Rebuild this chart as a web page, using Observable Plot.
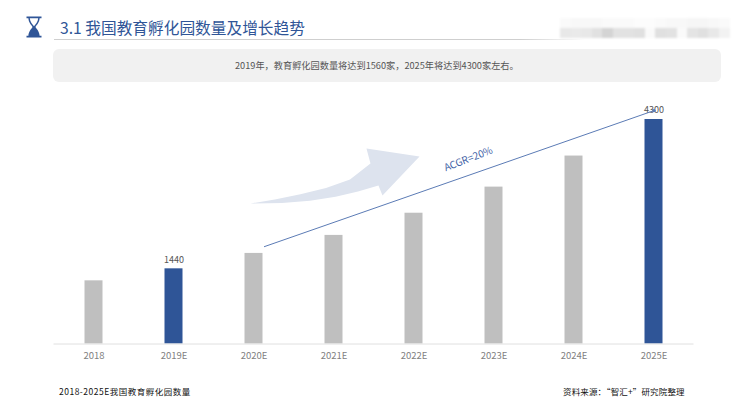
<!DOCTYPE html>
<html lang="zh">
<head>
<meta charset="utf-8">
<script src="https://cdn.jsdelivr.net/npm/d3@7"></script>
<script src="https://cdn.jsdelivr.net/npm/@observablehq/plot@0.6"></script>
<style>
html,body{margin:0;padding:0;background:#fff;width:745px;height:414px;overflow:hidden;font-family:"Noto Sans CJK SC","Noto Sans",sans-serif}
#chart{position:absolute;left:0;top:0}
.o{position:absolute;white-space:nowrap}
#title{left:60px;top:15px;font-size:15.7px;line-height:26px;color:#2f5597}
#rule{left:54px;top:39px;width:530px;height:1px;background:linear-gradient(90deg,#cfcfcf 0,#cfcfcf 88%,rgba(207,207,207,0) 100%)}
#box{left:53px;top:49px;width:668px;height:33px;border-radius:6px;background:#f1f1f1;color:#555;font-size:9.2px;line-height:33px;text-align:left;text-indent:182px}
#foot1{left:59px;top:384px;font-size:8.5px;line-height:14px;color:#111;letter-spacing:.5px}
#foot2{left:563px;top:384px;font-size:8.5px;line-height:14px;color:#111;letter-spacing:.15px}
#icon{left:26px;top:16px}
#mosaic{left:560px;top:18px;display:grid;grid-template-columns:repeat(16,10.6px);grid-auto-rows:10px;filter:blur(.8px)}
</style>
</head>
<body>
<div id="chart"></div>
<div class="o" id="title">3.1 我国教育孵化园数量及增长趋势</div>
<div class="o" id="rule"></div>
<div class="o" id="box">2019年&#xFF0C;教育孵化园数量将达到1560家&#xFF0C;2025年将达到4300家左右。</div>
<div class="o" id="foot1">2018-2025E我国教育孵化园数量</div>
<div class="o" id="foot2">资料来源&#xFF1A;“智汇+”研究院整理</div>
<svg class="o" id="icon" width="16" height="22" viewBox="0 0 16 22">
  <path d="M0.5 0.5H15.5V2.2H13.6C13.4 6.5 10.8 8.8 9.4 11C10.8 13.2 13.4 15.5 13.6 19.8H15.5V21.5H0.5V19.8H2.4C2.6 15.5 5.2 13.2 6.6 11C5.2 8.8 2.6 6.5 2.4 2.2H0.5Z M3.8 2.2C4 6 6.6 8.4 8 10.2C9.4 8.4 12 6 12.2 2.2Z" fill="#2f5597" fill-rule="evenodd"/>
</svg>
<div class="o" id="mosaic"></div>
<script>
// Chart data
const years = ["2018", "2019E", "2020E", "2021E", "2022E", "2023E", "2024E", "2025E"];
const counts = [1210, 1440, 1735, 2080, 2505, 3005, 3600, 4300];
const highlighted = ["2019E", "2025E"];
const valueLabels = {"2019E": "1440", "2025E": "4300"};

// Trend line, in chart units (category index, count)
const trendX = [2.13, 7.0];
const trendY = [1865, 4470];
const trendLabel = "ACGR=20%";

// Decorative arrow outline, in chart units
const arrowX = [1.956, 2.26, 2.58, 2.9, 3.2, 3.456, 3.406, 4.069, 3.606, 3.556, 3.3, 3.02, 2.7, 2.35, 1.956];
const arrowY = [2691, 2770, 2870, 2990, 3150, 3457, 3745, 3591, 2844, 3036, 2920, 2820, 2745, 2700, 2691];

// Blurred patch at the top right (grey levels)
const mosaicTop = [250,248,248,248,250,250,250,252,252,250,248,248,246,246,248,250];
const mosaicBottom = [232,234,232,225,212,226,226,224,250,224,226,250,228,224,232,242];

const bars = years.map((year, i) => ({year, i, count: counts[i], hi: highlighted.includes(year)}));
const trend = trendX.map((x, k) => ({x, y: trendY[k]}));
const arrow = arrowX.map((x, k) => ({x, y: arrowY[k]}));
const halfBar = 0.1125;

const chart = Plot.plot({
  width: 745, height: 414,
  marginLeft: 53.5, marginRight: 51.5, marginTop: 119, marginBottom: 70.5,
  style: {fontFamily: '"Noto Sans CJK SC","Noto Sans",sans-serif', background: "transparent"},
  x: {domain: [-0.5, 7.5], axis: null},
  y: {domain: [0, 4300], axis: null},
  marks: [
    Plot.line(arrow, {x: "x", y: "y", fill: "#dde3ee", stroke: "none", curve: "linear"}),
    Plot.rectY(bars, {x1: d => d.i - halfBar, x2: d => d.i + halfBar, y1: 0, y2: "count",
      fill: d => d.hi ? "#2f5597" : "#bfbfbf"}),
    Plot.ruleY([0], {stroke: "#e0e0e0", strokeWidth: 1}),
    Plot.text(bars, {x: "i", y: 0, text: "year", dy: 12, fill: "#7f7f7f", fontSize: 9.5, lineAnchor: "middle"}),
    Plot.text(bars.filter(d => valueLabels[d.year]), {x: "i", y: "count", text: d => valueLabels[d.year],
      dy: -9, fill: "#555", fontSize: 9, lineAnchor: "middle"}),
    Plot.line(trend, {x: "x", y: "y", stroke: "#5b7bb5", strokeWidth: 1, markerEnd: "dot"}),
    Plot.text([{x: 4.68, y: 3540}], {x: "x", y: "y", text: () => trendLabel, rotate: -21,
      fill: "#3f62a6", fontSize: 10})
  ]
});
document.getElementById("chart").append(chart);

const mosaic = document.getElementById("mosaic");
[...mosaicTop, ...mosaicBottom].forEach(g => {
  const c = document.createElement("div");
  c.style.background = `rgb(${g},${g},${g})`;
  mosaic.append(c);
});
</script>
</body>
</html>
